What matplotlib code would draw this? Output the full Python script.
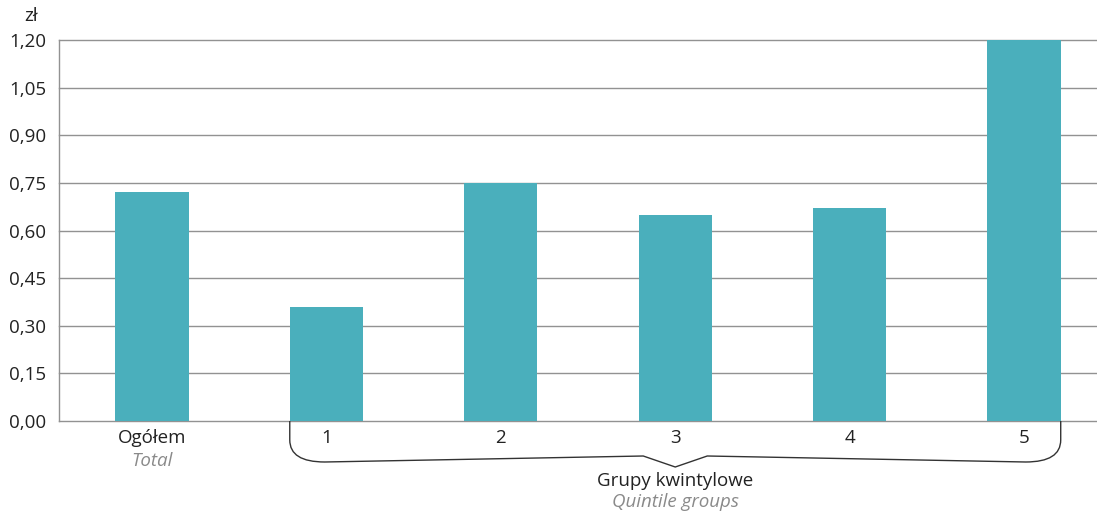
import matplotlib
matplotlib.use("Agg")
import matplotlib.pyplot as plt
from matplotlib.path import Path
from matplotlib.patches import PathPatch
from matplotlib.transforms import blended_transform_factory

categories = ["Ogółem", "1", "2", "3", "4", "5"]
values = [0.72, 0.36, 0.75, 0.65, 0.67, 1.20]
yticks = [0.00, 0.15, 0.30, 0.45, 0.60, 0.75, 0.90, 1.05, 1.20]
ytick_labels = ["0,00", "0,15", "0,30", "0,45", "0,60", "0,75", "0,90", "1,05", "1,20"]
unit_label = "zł"
total_en = "Total"
group_pl = "Grupy kwintylowe"
group_en = "Quintile groups"

plt.rcParams['font.family'] = ['Open Sans', 'DejaVu Sans']

W, H = 1097, 513
fig = plt.figure(figsize=(W / 100, H / 100), dpi=100)
ax = fig.add_axes([59 / W, (H - 421) / H, (W - 59) / W, 381 / H])

bar_color = "#4aafbc"
grid_color = "#929292"
fs = 13.5
width = 0.42
x = list(range(len(categories)))
ax.bar(x, values, width=width, color=bar_color, zorder=2)

ax.set_xlim(-0.533, 5.418)
ax.set_ylim(0, 1.20)
ax.set_yticks(yticks)
ax.set_yticklabels(ytick_labels, fontsize=fs, color="#222222")
ax.tick_params(axis='y', length=0, pad=9)
ax.set_xticks([])
for t in yticks:
    ax.axhline(t, color=grid_color, linewidth=1.0, zorder=1, clip_on=False)
for s in ["top", "right", "bottom"]:
    ax.spines[s].set_visible(False)
ax.spines["left"].set_color(grid_color)
ax.spines["left"].set_linewidth(1.0)

# unit label
fig.text(31 / W, (H - 16) / H, unit_label, ha="center", va="center", fontsize=fs, color="#222222")

# category labels
trans = blended_transform_factory(ax.transData, ax.transAxes)
def ypx(p):
    return (421 - p) / 381.0

for xi, c in zip(x, categories):
    ax.text(xi, ypx(438), c, transform=trans, ha="center", va="center",
            fontsize=fs, color="#222222")
ax.text(0, ypx(461), total_en, transform=trans, ha="center", va="center",
        fontsize=fs, color="#8a8a8a", style="italic")

# brace
ppu = (W - 59) / (5.418 + 0.533)  # pixels per data unit
def dx(px):
    return px / ppu

left = 1 - width / 2
right = 5 + width / 2
mid = (left + right) / 2
verts = [
    (left, ypx(421)),
    (left, ypx(440)),
    (left, ypx(462)), (left + dx(35), ypx(462)),
    (mid - dx(32), ypx(456)),
    (mid, ypx(467)),
    (mid + dx(32), ypx(456)),
    (right - dx(35), ypx(462)),
    (right, ypx(462)), (right, ypx(440)),
    (right, ypx(421)),
]
codes = [Path.MOVETO, Path.LINETO, Path.CURVE3, Path.CURVE3, Path.LINETO,
         Path.LINETO, Path.LINETO, Path.LINETO, Path.CURVE3, Path.CURVE3, Path.LINETO]
patch = PathPatch(Path(verts, codes), transform=trans, facecolor="none",
                  edgecolor="#333333", linewidth=1.0, clip_on=False)
ax.add_patch(patch)

ax.text(mid, ypx(481), group_pl, transform=trans, ha="center", va="center",
        fontsize=fs, color="#222222")
ax.text(mid, ypx(502), group_en, transform=trans, ha="center", va="center",
        fontsize=fs, color="#8a8a8a", style="italic")

fig.savefig("out.png", dpi=100)
